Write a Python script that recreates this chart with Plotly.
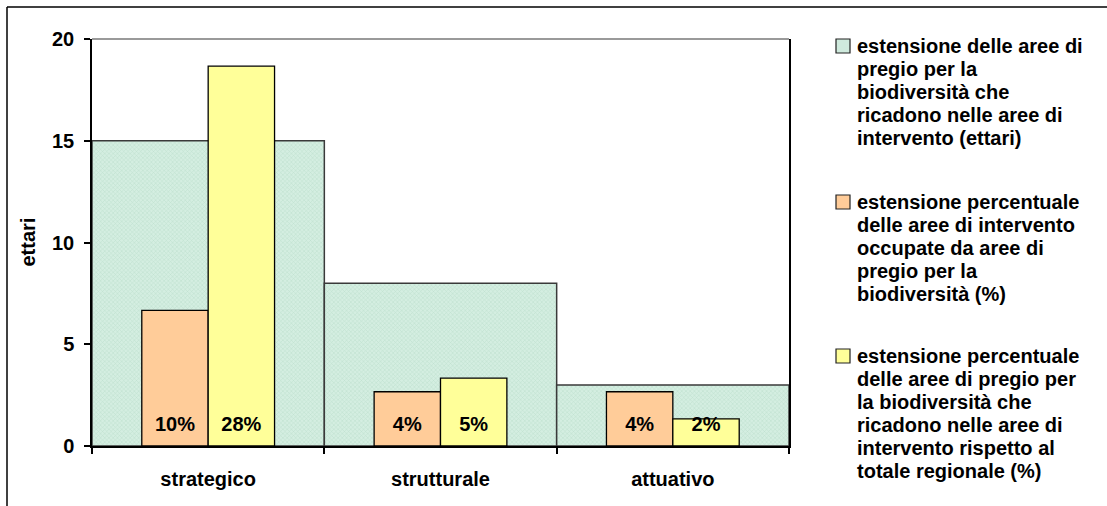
import plotly.graph_objects as go

# --- data -------------------------------------------------------------
categories = ["strategico", "strutturale", "attuativo"]
ettari = [15, 8, 3]                 # estensione aree di pregio (ettari)
pct_interventi = [10, 4, 4]         # % aree di intervento occupate
pct_regionale = [28, 5, 2]          # % rispetto al totale regionale
y_ticks = [0, 5, 10, 15, 20]

legend_items = [
    ["estensione delle aree di", "pregio per la", "biodiversità che",
     "ricadono nelle aree di", "intervento (ettari)"],
    ["estensione percentuale", "delle aree di intervento",
     "occupate da aree di", "pregio per la", "biodiversità (%)"],
    ["estensione percentuale", "delle aree di pregio per",
     "la biodiversità che", "ricadono nelle aree di",
     "intervento rispetto al", "totale regionale (%)"],
]

# --- geometry (pixels) -----------------------------------------------
W, H = 1107, 506
L, R, T, B = 92, 789, 39, 446
FONT = "Liberation Sans, Arial, sans-serif"
FS = 20
GREEN, ORANGE, YELLOW = "#CFEADD", "#FFCC99", "#FFFF99"
BAR_W = 1 / 3.5


def px_x(x):
    return (x - L) / (R - L)


def px_y(y):
    return (B - y) / (B - T)


xs = list(range(len(categories)))

fig = go.Figure()

fig.add_trace(go.Bar(
    x=xs, y=ettari, width=1, offset=-0.5,
    marker=dict(
        color=GREEN,
        line=dict(color="#3A3A3A", width=1.5),
        pattern=dict(shape="x", fgcolor="#BBDDCC", bgcolor="#D4EEE1",
                     size=3, solidity=0.3, fillmode="replace"),
    ),
    hoverinfo="skip",
))

fig.add_trace(go.Bar(
    x=xs, y=pct_interventi, width=BAR_W, offset=-BAR_W, yaxis="y2",
    marker=dict(color=ORANGE, line=dict(color="black", width=1.3)),
    hoverinfo="skip",
))

fig.add_trace(go.Bar(
    x=xs, y=pct_regionale, width=BAR_W, offset=0, yaxis="y2",
    marker=dict(color=YELLOW, line=dict(color="black", width=1.3)),
    hoverinfo="skip",
))

# percentage labels near the base of each bar
label_y = 20 / (B - T) * 30
fig.add_trace(go.Scatter(
    x=[x - BAR_W / 2 for x in xs] + [x + BAR_W / 2 for x in xs],
    y=[label_y] * (2 * len(xs)),
    text=[f"{v}%" for v in pct_interventi] + [f"{v}%" for v in pct_regionale],
    mode="text", yaxis="y2", cliponaxis=False,
    textfont=dict(family=FONT, size=FS, color="black", weight="bold"),
    hoverinfo="skip",
))

shapes = [
    # outer chart frame
    dict(type="line", xref="paper", yref="paper",
         x0=px_x(7), x1=px_x(W + 5), y0=px_y(7), y1=px_y(7),
         line=dict(color="black", width=1.5)),
    dict(type="line", xref="paper", yref="paper",
         x0=px_x(7), x1=px_x(7), y0=px_y(7), y1=px_y(H + 5),
         line=dict(color="black", width=1.5)),
    # plot area top border
    dict(type="line", xref="paper", yref="paper",
         x0=0, x1=1, y0=1, y1=1,
         line=dict(color="#9A9A9A", width=2)),
]

annotations = [
    dict(text="ettari", xref="paper", yref="paper",
         x=px_x(27), y=0.5, textangle=-90, showarrow=False,
         xanchor="center", yanchor="middle",
         font=dict(family=FONT, size=FS, color="black", weight="bold")),
]

# legend: swatches + wrapped text lines
swatch_colors = [GREEN, ORANGE, YELLOW]
first_line_y = [46, 202, 356]
LINE_H = 23
for colr, y0, lines in zip(swatch_colors, first_line_y, legend_items):
    shapes.append(dict(
        type="rect", xref="paper", yref="paper",
        x0=px_x(836), x1=px_x(850), y0=px_y(y0 - 7), y1=px_y(y0 + 7),
        fillcolor=colr, line=dict(color="#222222", width=1.2)))
    for i, line in enumerate(lines):
        annotations.append(dict(
            text=line, xref="paper", yref="paper",
            x=px_x(855), y=px_y(y0 + i * LINE_H),
            xanchor="left", yanchor="middle", showarrow=False,
            font=dict(family=FONT, size=FS, color="black", weight="bold")))

fig.update_layout(
    width=W, height=H,
    margin=dict(l=L, r=W - R, t=T, b=H - B, autoexpand=False),
    paper_bgcolor="white", plot_bgcolor="white",
    barmode="overlay", showlegend=False,
    font=dict(family=FONT, size=FS, color="black"),
    xaxis=dict(
        range=[-0.5, len(categories) - 0.5],
        tickmode="array", tickvals=xs, ticktext=categories,
        ticks="", ticklabelstandoff=14,
        tickfont=dict(family=FONT, size=FS, color="black", weight="bold"),
        showline=True, linecolor="black", linewidth=1.5,
        showgrid=False, zeroline=False, fixedrange=True,
        minor=dict(tickvals=[x - 0.5 for x in xs] + [len(xs) - 0.5],
                   ticks="outside", ticklen=6, tickwidth=1.5,
                   tickcolor="black", showgrid=False),
    ),
    yaxis=dict(
        range=[0, 20], tickmode="array", tickvals=y_ticks,
        ticks="outside", ticklen=6, tickwidth=1.5, tickcolor="black",
        ticklabelstandoff=6,
        tickfont=dict(family=FONT, size=FS, color="black", weight="bold"),
        showline=True, linecolor="black", linewidth=1.5,
        showgrid=False, zeroline=False, fixedrange=True,
    ),
    yaxis2=dict(
        range=[0, 30], overlaying="y", side="right",
        showticklabels=False, ticks="",
        showline=True, linecolor="black", linewidth=1.5,
        showgrid=False, zeroline=False, fixedrange=True,
    ),
    shapes=shapes,
    annotations=annotations,
)

fig.write_html("out.html")
